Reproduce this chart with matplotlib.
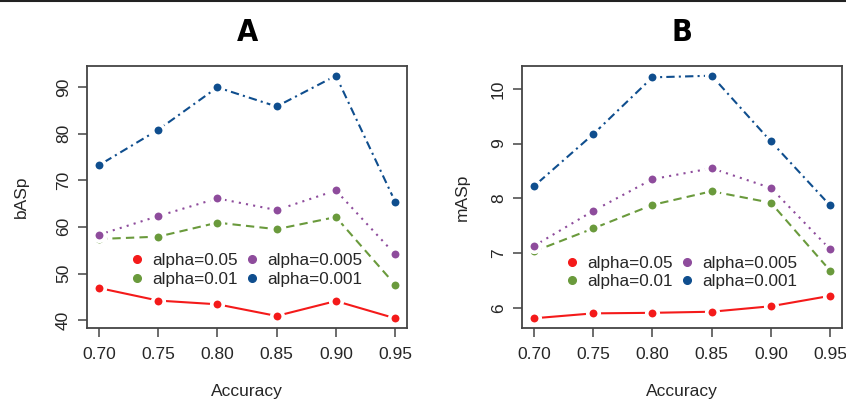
import matplotlib
matplotlib.use("Agg")
import matplotlib.pyplot as plt
from matplotlib.lines import Line2D

plt.rcParams['font.family'] = ['Liberation Sans', 'DejaVu Sans']

# data
accuracy = [0.70, 0.75, 0.80, 0.85, 0.90, 0.95]
alpha_labels = ["alpha=0.05", "alpha=0.01", "alpha=0.005", "alpha=0.001"]

basp_005 = [46.9, 44.2, 43.4, 40.9, 44.1, 40.4]
basp_001 = [57.4, 57.9, 60.9, 59.5, 62.1, 47.6]
basp_0005 = [58.3, 62.3, 66.1, 63.6, 67.8, 54.1]
basp_0001 = [73.2, 80.8, 89.9, 85.8, 92.4, 65.4]

masp_005 = [5.81, 5.90, 5.91, 5.93, 6.03, 6.22]
masp_001 = [7.03, 7.45, 7.88, 8.13, 7.92, 6.68]
masp_0005 = [7.13, 7.77, 8.35, 8.55, 8.19, 7.07]
masp_0001 = [8.22, 9.17, 10.21, 10.24, 9.04, 7.87]

colors = ['#f41a1a', '#6a9a3c', '#8e4c9c', '#0f4e8e']
dashes = [None, (4, 2.5), (1, 2.5), (1, 2, 4, 2)]

INK = '#262626'


def panel(ax, series, ylabel, title, yticks, leg_y):
    for vals, c, d in zip(series, colors, dashes):
        kw = dict(color=c, lw=1.5, marker='o', ms=8.3, mfc=c, mec='white', mew=2.6)
        if d is None:
            ax.plot(accuracy, vals, ls='-', **kw)
        else:
            ax.plot(accuracy, vals, dashes=d, **kw)
    lo = min(min(s) for s in series)
    hi = max(max(s) for s in series)
    pad = 0.04 * (hi - lo)
    ax.set_ylim(lo - pad, hi + pad)
    ax.set_xlim(0.69, 0.96)
    ax.set_xticks(accuracy)
    ax.set_xticklabels([f"{a:.2f}" for a in accuracy])
    ax.set_yticks(yticks)
    for s in ax.spines.values():
        s.set_color('#444444')
        s.set_linewidth(1.3)
    ax.tick_params(axis='both', length=6.5, width=1.1, color='#444444',
                   labelsize=12.5, labelcolor=INK)
    ax.tick_params(axis='x', pad=7.5)
    ax.tick_params(axis='y', pad=5, labelrotation=90)
    for lab in ax.get_yticklabels():
        lab.set_va('center')
    ax.set_xlabel("Accuracy", fontsize=12.5, color=INK)
    ax.xaxis.set_label_coords(0.5, -0.215)
    ax.set_ylabel(ylabel, fontsize=12.5, color=INK)
    ax.set_title(title, fontsize=22, fontweight='bold', fontstretch='condensed',
                 family=['Liberation Sans Narrow', 'DejaVu Sans'], pad=18)
    handles = [Line2D([], [], ls='none', marker='o', ms=5.5, color=c) for c in colors]
    ax.legend(handles, alpha_labels, ncol=2, frameon=False, fontsize=12.3,
              loc='upper left', bbox_to_anchor=(0.13, leg_y),
              handlelength=1.0, handletextpad=0.4, columnspacing=0.3,
              labelspacing=0.2, borderpad=0, borderaxespad=0,
              labelcolor=INK)


fig = plt.figure(figsize=(8.46, 4.04), dpi=100)
ax1 = fig.add_axes([87 / 846, 76 / 404, 320 / 846, 262 / 404])
ax2 = fig.add_axes([522 / 846, 76 / 404, 320 / 846, 262 / 404])

panel(ax1, [basp_005, basp_001, basp_0005, basp_0001], "bASp", "A", [40, 50, 60, 70, 80, 90], 0.285)
panel(ax2, [masp_005, masp_001, masp_0005, masp_0001], "mASp", "B", [6, 7, 8, 9, 10], 0.275)
ax1.yaxis.set_label_coords(-0.18, 0.5)
ax2.yaxis.set_label_coords(-0.163, 0.5)

# thin rule along the top edge
fig.add_artist(Line2D([0, 1], [0.998, 0.998], transform=fig.transFigure, color='#222222', lw=1.5))

fig.savefig("out.png", dpi=100)
